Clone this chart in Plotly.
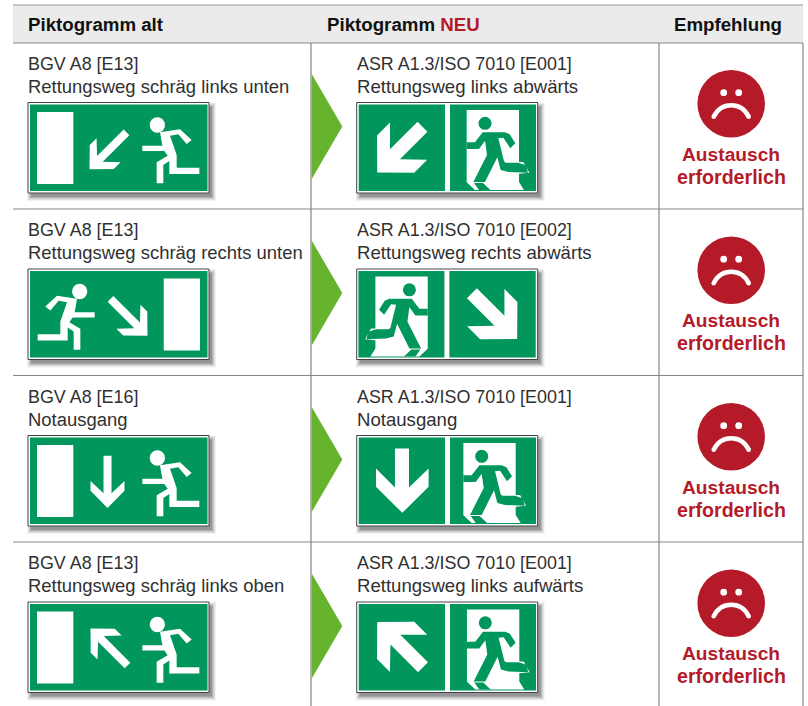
import plotly.graph_objects as go
import math

HEADERS = ["Piktogramm alt", "Piktogramm ", "NEU", "Empfehlung"]
OLD_CODES = ["BGV A8 [E13]", "BGV A8 [E13]", "BGV A8 [E16]", "BGV A8 [E13]"]
OLD_NAMES = ["Rettungsweg schräg links unten", "Rettungsweg schräg rechts unten", "Notausgang", "Rettungsweg schräg links oben"]
NEW_CODES = ["ASR A1.3/ISO 7010 [E001]", "ASR A1.3/ISO 7010 [E002]", "ASR A1.3/ISO 7010 [E001]", "ASR A1.3/ISO 7010 [E001]"]
NEW_NAMES = ["Rettungsweg links abwärts", "Rettungsweg rechts abwärts", "Notausgang", "Rettungsweg links aufwärts"]
ADVICE = ["Austausch", "erforderlich"]

ROW_OFFSET = [0, 166.5, 333, 499.5]
ANGLE = [45, 45, 0, 135]
MIRROR = [False, True, False, False]
DOOR_SHIFT = [0, 0, -3.3, 0.3]
OLD_ARROW_CENTER = [(80, 48.3), (80, 48.3), (79.5, 46.3), (81, 45)]
NEW_ARROW_CENTER = [(43.3, 47.2), (43.3, 47.2), (45.6, 45.2), (43.3, 42.7)]

GREEN = "#00965c"
RED = "#b51a28"
ARROWGREEN = "#66b32e"
GREY = "#858585"
FONT = "Liberation Sans"

OLD_ARROW = [(249, 77), (273, 77), (273, 190), (312, 153), (312, 182), (261, 234), (210, 182), (210, 153), (249, 190)]
NEW_ARROW = [(165, 55), (207, 55), (207, 172), (266, 115), (266, 170), (187, 248), (108, 170), (108, 115), (165, 172)]
OLD_RUNNER = [(90, 97), (150, 88), (185, 120), (170, 132), (145, 103), (120, 107), (140, 165), (140, 203), (208, 203),
              (208, 222), (118, 222), (118, 183), (100, 195), (100, 250), (80, 250), (80, 187), (113, 167), (103, 153),
              (37, 153), (37, 137), (97, 137)]
OLD_HEAD = (82, 75, 23)
DOOR = [(35, 30), (192, 30), (192, 186), (205, 186), (223, 218), (192, 221), (192, 246), (207, 270), (60, 270), (35, 247)]
NEW_RUNNER = [(35, 127), (60, 127), (83, 97), (150, 97), (164, 103), (181, 130), (166, 145), (145, 113), (130, 115),
              (147, 184), (152, 188), (190, 188), (213, 196), (219, 218), (160, 216), (137, 210), (127, 172), (90, 246),
              (55, 246), (96, 165), (90, 122), (72, 147), (35, 147)]
NEW_FOOT = [(57, 249), (84, 249), (106, 270), (72, 270)]
NEW_HEAD = (90, 70, 19.5)

shapes = []
ann = []


def path(points):
    return "M" + " L".join(f"{x:.2f},{y:.2f}" for x, y in points) + " Z"


def poly(points, color):
    shapes.append(dict(type="path", path=path(points), fillcolor=color, line=dict(width=0), xref="x", yref="y"))


def circle(cx, cy, r, color):
    shapes.append(dict(type="circle", x0=cx - r, x1=cx + r, y0=cy - r, y1=cy + r, fillcolor=color,
                       line=dict(width=0), xref="x", yref="y"))


def rect(x0, y0, x1, y1, color, opacity=1.0, line=None):
    shapes.append(dict(type="rect", x0=x0, y0=y0, x1=x1, y1=y1, fillcolor=color, opacity=opacity,
                       line=line or dict(width=0), xref="x", yref="y"))


def hline(x0, x1, y, w=1.2, c=GREY):
    shapes.append(dict(type="line", x0=x0, x1=x1, y0=y, y1=y, line=dict(color=c, width=w), xref="x", yref="y"))


def vline(x, y0, y1, w=1.2, c=GREY):
    shapes.append(dict(type="line", x0=x, x1=x, y0=y0, y1=y1, line=dict(color=c, width=w), xref="x", yref="y"))


def text(x, y, s, size=17, color="#303030", anchor="left", bold=False):
    s2 = f"<b>{s}</b>" if bold else s
    ann.append(dict(x=x, y=y, text=s2, showarrow=False, xanchor=anchor, yanchor="middle", xref="x", yref="y",
                    font=dict(family=FONT, size=size, color=color), borderpad=0, borderwidth=0))


W, H = 181, 90.5


def sign_base(ox, oy):
    for grow, op in [(4, 0.05), (3, 0.07), (2, 0.09), (1, 0.12), (0, 0.16)]:
        rect(ox + 3 - grow, oy + 4 - grow, ox + W + 3 + grow, oy + H + 4 + grow, "#000000", op)
    rect(ox, oy, ox + W, oy + H, "#ffffff", line=dict(color="#444444", width=1))


def place(pts, ox, oy, mirror):
    out = []
    for rx, ry in pts:
        if mirror:
            rx = W - rx
        out.append((ox + rx, oy + ry))
    return out


def arrow(ox, oy, pts, local_c, center, angle, mirror, scale=1 / 3):
    t = math.radians(angle)
    out = []
    for x, y in pts:
        dx, dy = (x - local_c[0]) * scale, (y - local_c[1]) * scale
        rx = dx * math.cos(t) - dy * math.sin(t) + center[0]
        ry = dx * math.sin(t) + dy * math.cos(t) + center[1]
        if mirror:
            rx = W - rx
        out.append((ox + rx, oy + ry))
    poly(out, "#ffffff")


def old_sign(i, ox, oy):
    m = MIRROR[i]
    sign_base(ox, oy)
    rect(ox + 2, oy + 2, ox + W - 1.5, oy + H - 2, GREEN)
    x0, x1 = (ox + 9, ox + 45.3) if not m else (ox + W - 45.3, ox + W - 9)
    rect(x0, oy + 9.5, x1, oy + 81.5, "#ffffff")
    arrow(ox, oy, OLD_ARROW, (261, 155.5), OLD_ARROW_CENTER[i], ANGLE[i], m)
    conv = lambda p: [(130 - 28 + x / 3, 100 - 102.5 + y / 3) for x, y in p]
    poly(place(conv(OLD_RUNNER), ox, oy, m), "#ffffff")
    c = place(conv([OLD_HEAD[:2]]), ox, oy, m)[0]
    circle(c[0], c[1], OLD_HEAD[2] / 3, "#ffffff")


def new_sign(i, ox, oy):
    m = MIRROR[i]
    sign_base(ox, oy)
    for a, b in [(2, 88.3), (93.3, W - 1.7)]:
        xa, xb = (W - b, W - a) if m else (a, b)
        rect(ox + xa, oy + 2, ox + xb, oy + H - 2, GREEN)
    arrow(ox, oy, NEW_ARROW, (187, 151.5), NEW_ARROW_CENTER[i], ANGLE[i], m)
    shift = DOOR_SHIFT[i]

    def conv(pts):
        p = [(455 - 356.7 + x / 3 + shift, 100 - 102.5 + y / 3) for x, y in pts]
        return place(p, ox, oy, m)

    poly(conv(DOOR), "#ffffff")
    poly(conv(NEW_RUNNER), GREEN)
    poly(conv(NEW_FOOT), GREEN)
    c = conv([NEW_HEAD[:2]])[0]
    circle(c[0], c[1], NEW_HEAD[2] / 3, GREEN)


def smiley(cx, cy):
    circle(cx, cy, 33.8, RED)
    circle(cx - 7.5, cy - 11, 3.4, "#ffffff")
    circle(cx + 7.5, cy - 11, 3.4, "#ffffff")
    shapes.append(dict(type="path", path=f"M{cx-17.5},{cy+13} C{cx-10},{cy-2.3} {cx+10},{cy-2.3} {cx+17.5},{cy+13}",
                       line=dict(color="#ffffff", width=4.5), fillcolor="rgba(0,0,0,0)", xref="x", yref="y"))
    circle(cx - 17.5, cy + 13, 2.25, "#ffffff")
    circle(cx + 17.5, cy + 13, 2.25, "#ffffff")


rect(13, 5, 803, 43, "#ebebeb")
hline(13, 803, 5, 1.2, "#9a9a9a")
hline(13, 803, 43)
for off in ROW_OFFSET[:3]:
    hline(13, 803, 209 + off)
vline(311, 43, 706)
vline(659, 43, 706)
vline(803, 43, 706)

text(28, 24.5, HEADERS[0], 18.7, "#111111", bold=True)
text(326.5, 24.5, HEADERS[1] + f'<span style="color:{RED}">{HEADERS[2]}</span>', 18.7, "#111111", bold=True)
text(727.5, 24.5, HEADERS[3], 18.7, "#111111", "center", True)

for i, off in enumerate(ROW_OFFSET):
    poly([(311.7, 74 + off), (342.3, 126.5 + off), (311.7, 179 + off)], ARROWGREEN)
    text(28, 63.5 + off, OLD_CODES[i], 17.9)
    text(28, 86 + off, OLD_NAMES[i], 18.45)
    text(357, 63.5 + off, NEW_CODES[i], 17.9)
    text(357, 86 + off, NEW_NAMES[i], 18.6)
    old_sign(i, 28, 102.5 + off)
    new_sign(i, 356.7, 102.5 + off)
    smiley(731.2, 103.7 + off)
    text(731, 154 + off, ADVICE[0], 19.2, RED, "center", True)
    text(731, 176.5 + off, ADVICE[1], 19.6, RED, "center", True)

fig = go.Figure(go.Scatter(x=[0], y=[0], mode="markers", marker=dict(opacity=0), hoverinfo="skip", showlegend=False))
fig.update_layout(width=808, height=706, margin=dict(l=0, r=0, t=0, b=0), paper_bgcolor="white", plot_bgcolor="white",
                  xaxis=dict(range=[0, 808], visible=False, fixedrange=True),
                  yaxis=dict(range=[706, 0], visible=False, fixedrange=True),
                  shapes=shapes, annotations=ann, showlegend=False)
fig.write_html("out.html", config=dict(displayModeBar=False), post_script="document.body.style.margin='0';")
